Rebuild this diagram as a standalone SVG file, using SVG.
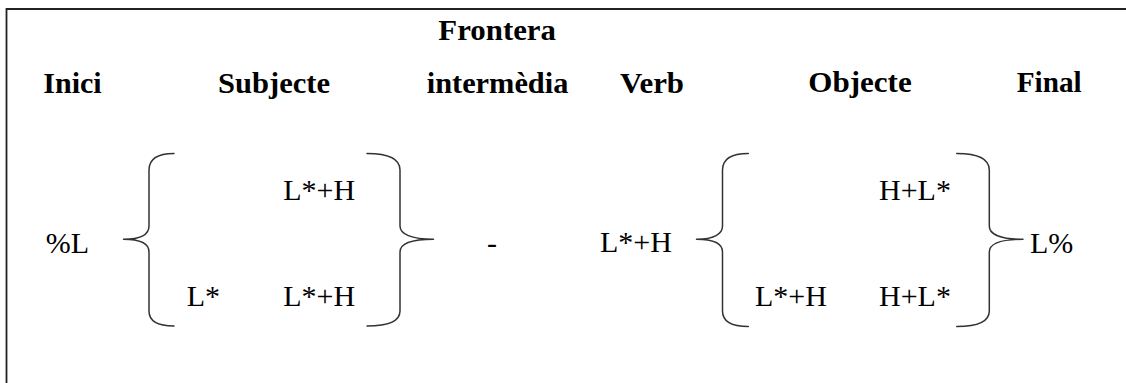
<svg xmlns="http://www.w3.org/2000/svg" width="1126" height="383" viewBox="0 0 1126 383">
<style>
.h{font-family:'Liberation Serif','Times New Roman',serif;font-weight:bold;font-size:30px;fill:#000}
.t{font-family:'Liberation Serif','Times New Roman',serif;font-size:30px;fill:#000}
.br{fill:none;stroke:#333;stroke-width:1.5;stroke-linecap:round;stroke-linejoin:round}
.frame{fill:none;stroke:#222;stroke-width:1.8}
</style>
<rect width="1126" height="383" fill="#fff"/>
<path class="frame" d="M6.5 383 L6.5 9 L1126 9"/>
<g id="headers">
<g id="h-inici"><text class="h" x="43.3" y="92.7" textLength="58.4" lengthAdjust="spacingAndGlyphs">Inici</text></g>
<g id="h-subjecte"><text class="h" x="218" y="92.7" textLength="112" lengthAdjust="spacingAndGlyphs">Subjecte</text></g>
<g id="h-frontera"><text class="h" x="438.3" y="40" textLength="117.7" lengthAdjust="spacingAndGlyphs">Frontera</text><text class="h" x="426.7" y="92.5" textLength="141.7" lengthAdjust="spacingAndGlyphs">intermèdia</text></g>
<g id="h-verb"><text class="h" x="620" y="92.5" textLength="64" lengthAdjust="spacingAndGlyphs">Verb</text></g>
<g id="h-objecte"><text class="h" x="808.3" y="92.3" textLength="103.4" lengthAdjust="spacingAndGlyphs">Objecte</text></g>
<g id="h-final"><text class="h" x="1016.7" y="92.3" textLength="65" lengthAdjust="spacingAndGlyphs">Final</text></g>
</g>
<g id="n-inici"><text class="t" x="45.7" y="252.7">%L</text></g>
<g id="n-subjecte">
<text class="t" x="283.3" y="199.5">L*+H</text>
<text class="t" x="186.7" y="306">L*</text>
<text class="t" x="283.3" y="306">L*+H</text>
</g>
<g id="n-frontera"><text class="t" x="487" y="252.5">-</text></g>
<g id="n-verb"><text class="t" x="600" y="252">L*+H</text></g>
<g id="n-objecte">
<text class="t" x="879" y="199.5">H+L*</text>
<text class="t" x="755" y="306">L*+H</text>
<text class="t" x="879" y="306">H+L*</text>
</g>
<g id="n-final"><text class="t" x="1030" y="252.7">L%</text></g>
<g id="connectors">
<path class="br" d="M174 153.5 C158 153.5 149 158 149 170 L149 226 C149 234 141 239.3 123.5 239.3 C141 239.3 149 244 149 252 L149 311 C149 322 158 326 174 326"/>
<path class="br" d="M367 153.5 C388 153.5 400 158 400 170 L400 226 C400 234 411 239.3 433.5 239.3 C411 239.3 400 244 400 252 L400 311 C400 322 388 326 367 326"/>
<path class="br" d="M748.3 153.5 C732 153.5 722.5 158 722.5 170 L722.5 226 C722.5 234 714 239.3 696.5 239.3 C714 239.3 722.5 244 722.5 252 L722.5 311 C722.5 322 732 326.5 748.3 326.5"/>
<path class="br" d="M956.7 153.5 C977 153.5 989.3 158 989.3 170 L989.3 226 C989.3 234 1000 239.3 1023 239.3 C1000 239.3 989.3 244 989.3 252 L989.3 311 C989.3 322 977 326.5 956.7 326.5"/>
</g>
</svg>
